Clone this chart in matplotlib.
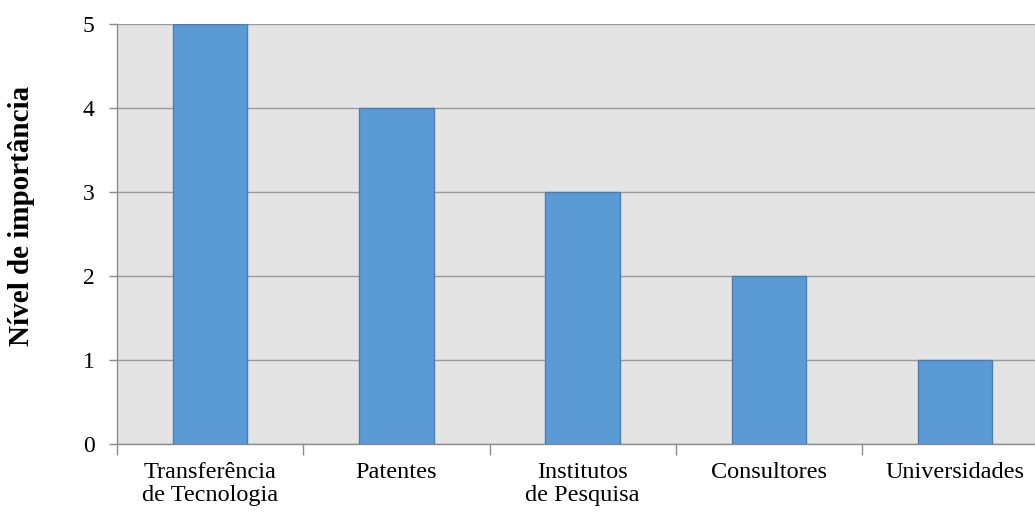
import matplotlib
matplotlib.use("Agg")
import matplotlib.pyplot as plt
import numpy as np

categorias = ["Transferência\nde Tecnologia", "Patentes", "Institutos\nde Pesquisa",
              "Consultores", "Universidades"]
importancia = [5, 4, 3, 2, 1]
yticks = [0, 1, 2, 3, 4, 5]

plt.rcParams['font.family'] = ['Liberation Serif', 'DejaVu Serif']

fig = plt.figure(figsize=(10.35, 5.13), dpi=100)
ax = fig.add_axes([117 / 1035, 1 - 444 / 513, 1 - 117 / 1035, 420 / 513])

x = np.arange(len(categorias))
ax.set_facecolor('#e4e4e4')
ax.bar(x, importancia, width=0.40, color='#5b9bd5', edgecolor='#4a7eb0',
       linewidth=1.0, zorder=3)

ax.set_yticks(yticks)
ax.set_yticklabels([str(v) for v in yticks], fontsize=17)
ax.yaxis.grid(True, color='#9a9a9a', linewidth=1.0, zorder=1)
ax.set_axisbelow(True)

# category labels centred under each bar, tick marks at the boundaries
ax.set_xticks(np.arange(len(categorias) + 1) - 0.5)
ax.set_xticklabels([])
ax.tick_params(axis='x', length=8, color='#8c8c8c', width=1)
ax.tick_params(axis='y', length=6, color='#8c8c8c', width=1, pad=10)

# last category runs off the right edge
ax.set_ylim(0, 5)
ax.set_xlim(-0.5, -0.5 + 918 / 186.25)

for xi, nome in zip(x, categorias):
    ax.text(xi, -0.22, nome, ha='center', va='top', fontsize=17.5,
            linespacing=1.1, transform=ax.transData)

for lado in ['top', 'right']:
    ax.spines[lado].set_visible(False)
for lado in ['left', 'bottom']:
    ax.spines[lado].set_color('#8c8c8c')
    ax.spines[lado].set_linewidth(1.0)

fig.text(22 / 1035, 1 - 216 / 513, 'Nível de importância', rotation=90,
         ha='center', va='center', fontsize=21, fontweight='bold')

fig.savefig('out.png', dpi=100, facecolor='white')
